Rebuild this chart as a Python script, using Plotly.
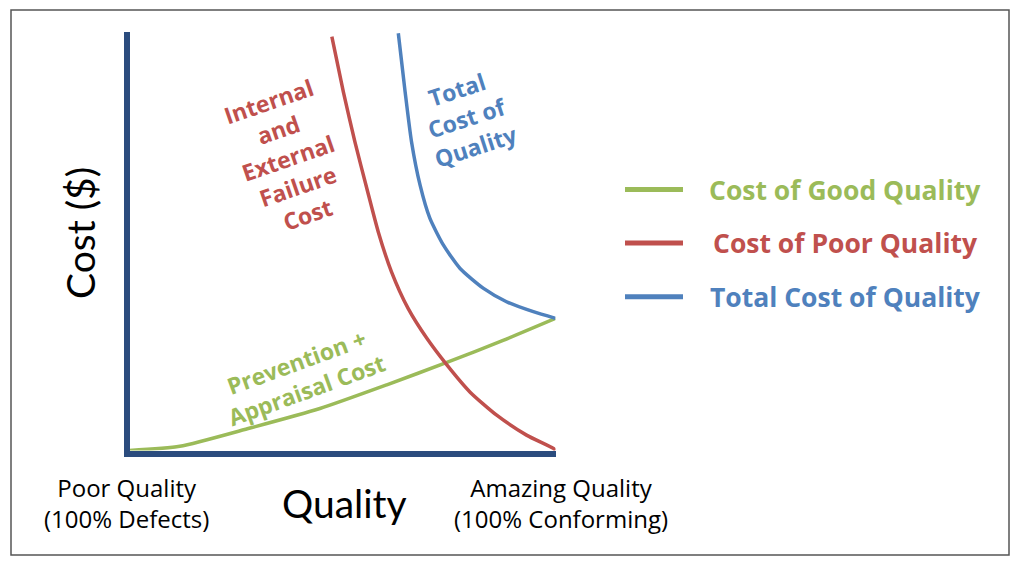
import plotly.graph_objects as go

# ---------------- data (quality 0..100, cost 0..~100) ----------------
green_x = [0, 11.8, 28.3, 44.7, 60.4, 74.5, 87.7, 100]
green_y = [0, 1.0, 5.4, 10.1, 15.8, 21.2, 26.5, 31.8]

red_x = [47.5, 50.2, 52.9, 55.7, 58.4, 61.5, 65.4, 69.8, 74.5, 79.9, 86.2, 93.2, 99.5, 100]
red_y = [99.6, 86.3, 74.3, 63.1, 52.6, 43.0, 34.2, 27.0, 20.6, 14.1, 8.5, 3.7, 0.5, 0]

blue_x = [63.1, 64.7, 66.2, 68.2, 70.5, 73.7, 77.6, 83.1, 88.5, 94.8, 100]
blue_y = [100.4, 86.3, 74.3, 63.9, 55.9, 49.4, 43.8, 39.0, 35.8, 33.4, 31.8]

series_names = ["Cost of Good Quality", "Cost of Poor Quality", "Total Cost of Quality"]
GREEN, RED, BLUE = "#9BBB59", "#C0504D", "#4F81BD"
AXIS = "#2B4C7E"
BIG_FONT = "Lato"
FONT = "Open Sans"

fig = go.Figure()
for xs, ys, c, n in [(green_x, green_y, GREEN, series_names[0]),
                     (red_x, red_y, RED, series_names[1]),
                     (blue_x, blue_y, BLUE, series_names[2])]:
    fig.add_trace(go.Scatter(x=xs, y=ys, mode="lines", name=n,
                             line=dict(color=c, width=3.5, shape="spline", smoothing=0.6),
                             showlegend=False, hoverinfo="skip"))

fig.update_layout(
    width=1024, height=569,
    margin=dict(l=0, r=0, t=0, b=0),
    paper_bgcolor="white", plot_bgcolor="white",
    xaxis=dict(range=[0, 100], domain=[129.5 / 1024, 555.5 / 1024],
               showgrid=False, zeroline=False, showticklabels=False, ticks="",
               showline=True, linewidth=6, linecolor=AXIS),
    yaxis=dict(range=[0, 100.7], domain=[1 - 450.5 / 569, 1 - 32 / 569],
               showgrid=False, zeroline=False, showticklabels=False, ticks="",
               showline=True, linewidth=6, linecolor=AXIS),
    yaxis2=dict(range=[0, 100.7], overlaying="y", side="right",
                showgrid=False, zeroline=False, showticklabels=False, ticks="",
                showline=True, linewidth=6, linecolor=AXIS),
    font=dict(family=FONT, color="black"),
)

# outer frame
fig.add_shape(type="rect", xref="paper", yref="paper",
              x0=11 / 1024, x1=1009 / 1024, y0=1 - 555 / 569, y1=1 - 10 / 569,
              line=dict(color="#555555", width=1.5), fillcolor="rgba(0,0,0,0)")

C = dict(showarrow=False, xanchor="center", yanchor="middle", align="center")
ann = []
# curve labels (inside plot, data coords)
ann.append(dict(x=37.2, y=70.4, xref="x", yref="y", textangle=-19,
                text="<b>Internal<br>and<br>External<br>Failure<br>Cost</b>",
                font=dict(size=23, color=RED, family=FONT), **C))
ann.append(dict(x=79.0, y=80.0, xref="x", yref="y", textangle=-18,
                text="<b>Total<br>Cost of<br>Quality</b>",
                font=dict(size=23, color=BLUE, family=FONT), **C))
ann.append(dict(x=40.3, y=18.0, xref="x", yref="y", textangle=-20,
                text="<b>Prevention +<br>Appraisal Cost</b>",
                font=dict(size=23, color=GREEN, family=FONT), **C))
# axis titles and end labels
ann.append(dict(x=80 / 1024, y=1 - 233 / 569, xref="paper", yref="paper",
                textangle=-90, text="Cost ($)", font=dict(size=39, color="black", family=BIG_FONT), **C))
ann.append(dict(x=344 / 1024, y=1 - 503 / 569, xref="paper", yref="paper",
                text="Quality", font=dict(size=39, color="black", family=BIG_FONT), **C))
ann.append(dict(x=126 / 1024, y=1 - 503 / 569, xref="paper", yref="paper",
                text="Poor Quality<br>(100% Defects)", font=dict(size=24, color="black", family=FONT), **C))
ann.append(dict(x=561 / 1024, y=1 - 503 / 569, xref="paper", yref="paper",
                text="Amazing Quality<br>(100% Conforming)", font=dict(size=24, color="black", family=FONT), **C))

# legend (line swatch + coloured bold label)
for i, (n, c) in enumerate(zip(series_names, [GREEN, RED, BLUE])):
    yy = 1 - (189.5 + i * 53.6) / 569
    fig.add_shape(type="line", xref="paper", yref="paper",
                  x0=625 / 1024, x1=683 / 1024, y0=yy, y1=yy,
                  line=dict(color=c, width=5))
    ann.append(dict(x=845 / 1024, y=yy, xref="paper", yref="paper",
                    text="<b>" + n + "</b>", font=dict(size=26.5, color=c, family=FONT), **C))

fig.update_layout(annotations=ann)
fig.write_html("out.html")
